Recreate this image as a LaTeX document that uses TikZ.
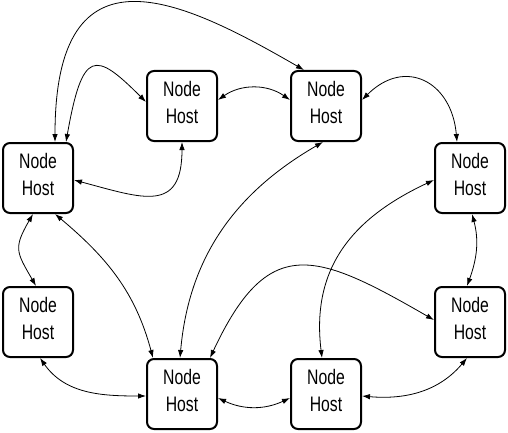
\documentclass[tikz,border=0pt]{standalone}
\usepackage{fontspec}
\setmainfont{Liberation Sans}[FakeStretch=0.75]
\usepackage{tikz}
\usetikzlibrary{arrows.meta}

\begin{document}
\begin{tikzpicture}[x=1pt,y=1pt,
        host/.style={draw,line width=2pt,rounded corners=7pt,minimum width=70pt,minimum height=70pt,
            inner sep=0pt,align=center,text depth=8pt,font=\fontsize{21}{27}\selectfont},
        link/.style={line width=0.8pt,{Latex[length=8pt,width=5.5pt]}-{Latex[length=8pt,width=5.5pt]}}]
            \useasboundingbox (0,0) rectangle (508,432);

            % The hosts
            \node[host] (topL) at (182,326) {Node\\Host};
            \node[host] (topR) at (326,326) {Node\\Host};
            \node[host] (leftU) at (38,254) {Node\\Host};
            \node[host] (rightU) at (470,254) {Node\\Host};
            \node[host] (leftD) at (38,110) {Node\\Host};
            \node[host] (rightD) at (470,110) {Node\\Host};
            \node[host] (botL) at (182,38) {Node\\Host};
            \node[host] (botR) at (326,38) {Node\\Host};

            % Links along the top
            \draw[link] ([xshift=17pt]leftU.north) to[out=90,in=150,out distance=205pt,in distance=140pt] ([xshift=-22pt]topR.north);
            \draw[link] ([xshift=28pt]leftU.north) to[out=80,in=135,out distance=95pt,in distance=72pt] ([yshift=4pt]topL.west);
            \draw[link] (topL.south) to[out=-90,in=-15,looseness=1.6] ([yshift=-2pt]leftU.east);
            \draw[link] ([yshift=6pt]topL.east) to[out=35,in=145] ([yshift=6pt]topR.west);
            \draw[link] ([yshift=6pt]topR.east) to[out=45,in=95,looseness=1.5] ([xshift=-13pt]rightU.north);

            % Links across the middle
            \draw[link] ([xshift=17pt]leftU.south) to[out=-40,in=105] ([xshift=-29pt]botL.north);
            \draw[link] ([xshift=-2pt]botL.north) to[out=85,in=-150] ([xshift=-3pt]topR.south);
            \draw[link] ([xshift=28pt]botL.north) to[out=65,in=150,looseness=1.55] ([yshift=2pt]rightD.west);
            \draw[link] ([xshift=-4pt]botR.north) to[out=97,in=-155,looseness=1.1] ([yshift=-2pt]rightU.west);

            % Links on the sides and the bottom
            \draw[link] ([xshift=-5pt]leftU.south) to[out=-120,in=120,looseness=1.4] ([xshift=-2pt]leftD.north);
            \draw[link] ([xshift=2pt]rightU.south) to[out=-75,in=70] ([xshift=-3pt]rightD.north);
            \draw[link] ([xshift=2pt]leftD.south) to[out=-55,in=180] ([yshift=-2pt]botL.west);
            \draw[link] ([yshift=-4pt]botL.east) to[out=-25,in=-155] ([yshift=-4pt]botR.west);
            \draw[link] ([yshift=-2pt]botR.east) to[out=-5,in=-130] ([xshift=-3pt]rightD.south);

        \end{tikzpicture}
\end{document}
